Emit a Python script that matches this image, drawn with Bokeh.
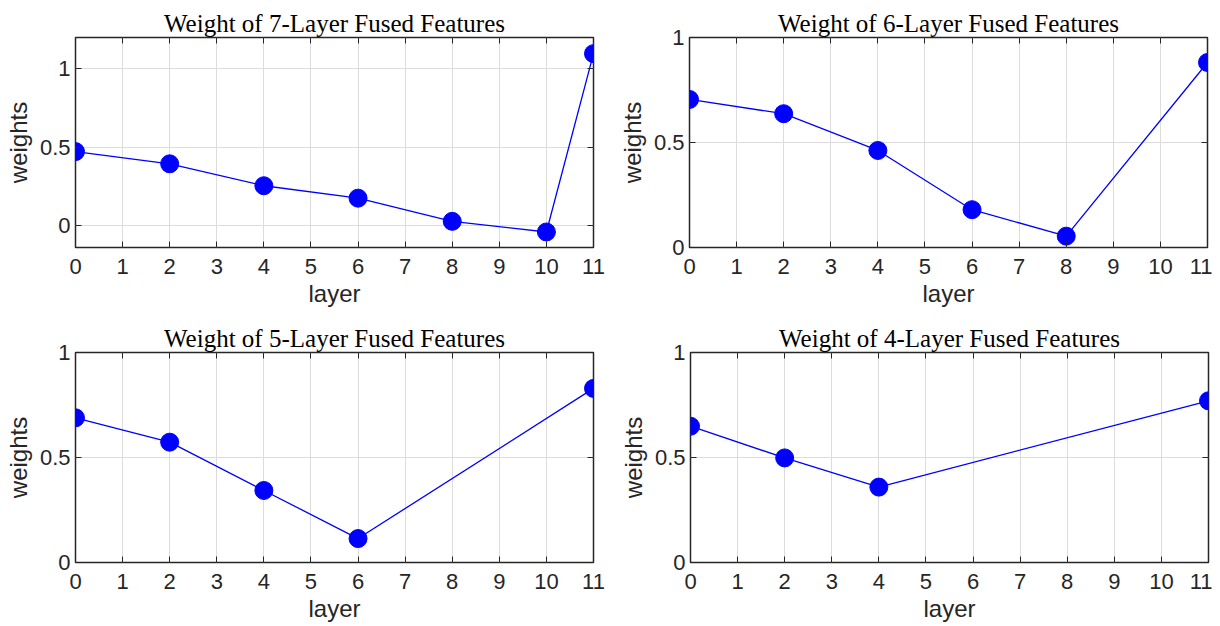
from bokeh.plotting import figure
from bokeh.layouts import column, row
from bokeh.models import FixedTicker, LinearAxis, CustomJSTickFormatter, NumeralTickFormatter, Range1d
from bokeh.embed import file_html
from bokeh.resources import INLINE

# ---- data ----
layers_7 = [0, 2, 4, 6, 8, 10, 11]
weights_7 = [0.472, 0.394, 0.254, 0.175, 0.027, -0.041, 1.097]

layers_6 = [0, 2, 4, 6, 8, 11]
weights_6 = [0.705, 0.637, 0.462, 0.180, 0.054, 0.881]

layers_5 = [0, 2, 4, 6, 11]
weights_5 = [0.689, 0.573, 0.343, 0.114, 0.829]

layers_4 = [0, 2, 4, 11]
weights_4 = [0.649, 0.498, 0.359, 0.770]

titles = ["Weight of 7-Layer Fused Features", "Weight of 6-Layer Fused Features",
          "Weight of 5-Layer Fused Features", "Weight of 4-Layer Fused Features"]
x_ticks = list(range(0, 12))
y_ticks = [0, 0.5, 1]
x_label = "layer"
y_label = "weights"

DARK = "#262626"
TICK_FONT = "Liberation Sans"
TITLE_FONT = "Liberation Serif"


def style_axis(ax):
    ax.axis_line_color = None
    ax.major_tick_in = 6
    ax.major_tick_out = 0
    ax.major_tick_line_color = DARK
    ax.minor_tick_line_color = None
    ax.major_label_text_font = TICK_FONT
    ax.major_label_text_font_size = "22px"
    ax.major_label_text_color = DARK
    ax.axis_label_text_font = TICK_FONT
    ax.axis_label_text_font_size = "24px"
    ax.axis_label_text_font_style = "normal"
    ax.axis_label_text_color = DARK


def make_plot(title, xs, ys, y_range, borders):
    left, right, top, bottom = borders
    p = figure(frame_width=518, frame_height=210,
               x_range=Range1d(0, 11), y_range=Range1d(*y_range),
               output_backend="svg", toolbar_location=None,
               min_border_left=left, min_border_right=right,
               min_border_top=top, min_border_bottom=bottom)
    p.title.text = title
    p.title.text_font = TITLE_FONT
    p.title.text_font_size = "25px"
    p.title.text_font_style = "normal"
    p.title.text_color = "black"
    p.title.align = "center"
    p.title.standoff = 2
    p.outline_line_color = DARK
    p.outline_line_width = 1.5
    p.outline_line_alpha = 1
    p.background_fill_color = "white"
    p.border_fill_color = "white"

    style_axis(p.xaxis[0])
    style_axis(p.yaxis[0])
    p.xaxis[0].ticker = FixedTicker(ticks=x_ticks)
    p.yaxis[0].ticker = FixedTicker(ticks=y_ticks)
    p.yaxis[0].formatter = NumeralTickFormatter(format="0.[0]")
    p.xaxis[0].axis_label = x_label
    p.yaxis[0].axis_label = y_label
    p.xaxis[0].major_label_standoff = 11
    p.yaxis[0].major_label_standoff = 5
    p.xaxis[0].axis_label_standoff = 3
    p.yaxis[0].axis_label_standoff = 5

    # inward ticks on the top and right edges of the box
    top_ax = LinearAxis(ticker=FixedTicker(ticks=x_ticks),
                        formatter=CustomJSTickFormatter(code="return '';"))
    right_ax = LinearAxis(ticker=FixedTicker(ticks=y_ticks),
                          formatter=CustomJSTickFormatter(code="return '';"))
    for ax in (top_ax, right_ax):
        style_axis(ax)
        ax.major_label_standoff = 0
        ax.major_label_text_font_size = "1px"
    p.add_layout(top_ax, "above")
    p.add_layout(right_ax, "right")

    p.xgrid.ticker = FixedTicker(ticks=x_ticks)
    p.ygrid.ticker = FixedTicker(ticks=y_ticks)
    p.xgrid.grid_line_color = "#dcdcdc"
    p.ygrid.grid_line_color = "#dcdcdc"
    p.xgrid.grid_line_width = 1
    p.ygrid.grid_line_width = 1

    p.line(xs, ys, line_color="#0000ff", line_width=1.3)
    p.scatter(xs, ys, size=18, fill_color="#0000ff", line_color="#0000ff")
    return p


p1 = make_plot(titles[0], layers_7, weights_7, (-0.14, 1.2), (75, 14, 36, 60))
p2 = make_plot(titles[1], layers_6, weights_6, (0, 1), (82, 5, 37, 59))
p3 = make_plot(titles[2], layers_5, weights_5, (0, 1), (75, 14, 43, 60))
p4 = make_plot(titles[3], layers_4, weights_4, (0, 1), (83, 4, 43, 60))

layout = column(row(p1, p2), row(p3, p4))

with open("out.html", "w") as f:
    f.write(file_html(layout, INLINE))
